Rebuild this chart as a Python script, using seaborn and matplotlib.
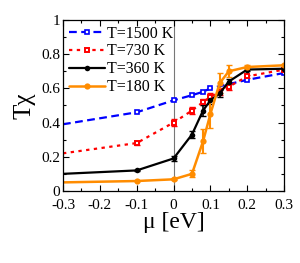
import numpy as np
import seaborn as sns
import matplotlib
matplotlib.use("Agg")
import matplotlib.pyplot as plt
import matplotlib.transforms as mtransforms
from matplotlib.ticker import MultipleLocator, FormatStrFormatter

# chemical potential mu [eV] and T*chi for each temperature
mu_1500 = [-0.3, -0.1, 0.0, 0.05, 0.08, 0.1, 0.2, 0.3]
tchi_1500 = [0.39, 0.46, 0.53, 0.56, 0.58, 0.60, 0.65, 0.69]

mu_730 = [-0.3, -0.1, 0.0, 0.05, 0.08, 0.1, 0.125, 0.15, 0.2, 0.3]
tchi_730 = [0.22, 0.28, 0.40, 0.47, 0.52, 0.55, 0.58, 0.61, 0.67, 0.71]
err_730 = [0.0, 0.01, 0.02, 0.02, 0.02, 0.02, 0.02, 0.02, 0.01, 0.01]

mu_360 = [-0.3, -0.1, 0.0, 0.05, 0.08, 0.1, 0.125, 0.15, 0.2, 0.3]
tchi_360 = [0.10, 0.12, 0.19, 0.33, 0.47, 0.53, 0.57, 0.64, 0.71, 0.715]
err_360 = [0.0, 0.005, 0.015, 0.02, 0.03, 0.02, 0.02, 0.015, 0.01, 0.005]

mu_180 = [-0.3, -0.1, 0.0, 0.05, 0.08, 0.1, 0.125, 0.15, 0.2, 0.3]
tchi_180 = [0.05, 0.058, 0.068, 0.10, 0.29, 0.45, 0.63, 0.70, 0.725, 0.735]
err_180 = [0.0, 0.0, 0.005, 0.02, 0.07, 0.08, 0.06, 0.035, 0.01, 0.01]

labels = ["T=1500 K", "T=730 K", "T=360 K", "T=180 K"]
blue, red, black, orange = "#0000ff", "#ff0000", "#000000", "#ff8c00"

sns.set_style("ticks", {"axes.edgecolor": "black", "text.color": "black",
                        "xtick.color": "black", "ytick.color": "black",
                        "axes.labelcolor": "black"})
plt.rcParams["font.family"] = ["Liberation Serif", "DejaVu Serif"]
plt.rcParams["axes.unicode_minus"] = False

fig = plt.figure(figsize=(3.0, 2.63), dpi=100)
ax = fig.add_axes([0.21, 0.274, 0.737, 0.65])

ax.axvline(0, color="#777777", lw=0.8, zorder=0)

# error bars first, lines on top
ax.errorbar(mu_730, tchi_730, yerr=err_730, fmt="none", ecolor=red, elinewidth=1.2, capsize=2)
ax.errorbar(mu_360, tchi_360, yerr=err_360, fmt="none", ecolor=black, elinewidth=1.2, capsize=2)
ax.errorbar(mu_180, tchi_180, yerr=err_180, fmt="none", ecolor=orange, elinewidth=1.5, capsize=2.5)

sns.lineplot(x=mu_1500, y=tchi_1500, ax=ax, color=blue, lw=1.6, dashes=False,
             linestyle=(0, (3.5, 2)), marker="s", markersize=3.2, markerfacecolor="white",
             markeredgecolor=blue, markeredgewidth=1.2, label=labels[0])
sns.lineplot(x=mu_730, y=tchi_730, ax=ax, color=red, lw=1.6, dashes=False,
             linestyle=(0, (1.5, 2)), marker="s", markersize=3.2, markerfacecolor="white",
             markeredgecolor=red, markeredgewidth=1.4, label=labels[1])
sns.lineplot(x=mu_360, y=tchi_360, ax=ax, color=black, lw=1.6, marker="o",
             markersize=4, markeredgewidth=0, label=labels[2])
sns.lineplot(x=mu_180, y=tchi_180, ax=ax, color=orange, lw=1.8, marker="o",
             markersize=4.5, markeredgewidth=0, label=labels[3])

leg = ax.legend(loc="upper left", frameon=False, fontsize=11.5, handlelength=2.3,
                handletextpad=0.1, labelspacing=0.12, borderaxespad=0.15, borderpad=0.2)

# no markers at the left edge point
for line in ax.get_lines()[1:]:
    if len(line.get_xdata()) > 2:
        line.set_markevery(slice(1, None))

ax.set_xlim(-0.3, 0.3)
ax.set_ylim(0, 1)
ax.xaxis.set_major_locator(MultipleLocator(0.1))
ax.xaxis.set_minor_locator(MultipleLocator(0.05))
ax.yaxis.set_major_locator(MultipleLocator(0.2))
ax.yaxis.set_minor_locator(MultipleLocator(0.1))
ax.xaxis.set_major_formatter(FormatStrFormatter("%g"))
ax.yaxis.set_major_formatter(FormatStrFormatter("%g"))
ax.tick_params(which="both", direction="in", top=True, right=True, labelsize=11)
ax.tick_params(axis="x", pad=5.5)
ax.tick_params(axis="y", pad=2)
ax.tick_params(which="major", length=4, width=0.8)
ax.tick_params(which="minor", length=2.5, width=0.8)
for s in ax.spines.values():
    s.set_linewidth(0.9)

# lift the "0" on the y axis a little, like the original
fig.canvas.draw()
lift = mtransforms.ScaledTranslation(0, 3 / 72, fig.dpi_scale_trans)
ylab0 = ax.get_yticklabels()[0]
ylab0.set_transform(ylab0.get_transform() + lift)

ax.set_xlabel("μ [eV]", fontsize=17, labelpad=0)
ax.set_ylabel("Tχ", fontsize=18, labelpad=4)

fig.savefig("out.png", dpi=100)
